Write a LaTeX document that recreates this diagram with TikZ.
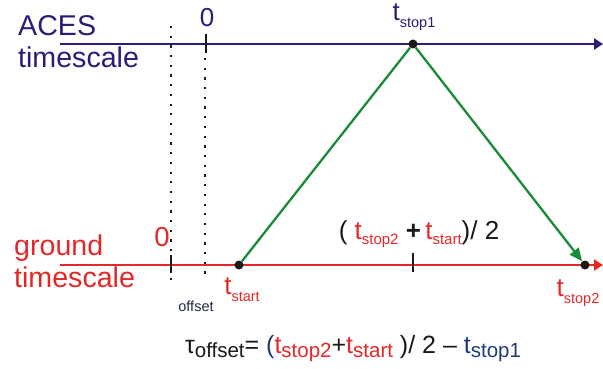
\documentclass[tikz,border=0pt]{standalone}
\usepackage{fontspec}
\setmainfont{Liberation Sans}
\usetikzlibrary{arrows.meta}
\definecolor{aces}{RGB}{40,30,120}
\definecolor{gnd}{RGB}{228,40,40}
\definecolor{sig}{RGB}{25,140,55}
\definecolor{eqblue}{RGB}{30,60,120}
\definecolor{ink}{RGB}{25,25,25}
\definecolor{note}{RGB}{35,40,70}
% t with a lowered subscript: [size]{text}{drop}
\newcommand{\tsb}[3][14.5]{t\raisebox{-#3}{\fontsize{#1}{#1}\selectfont #2}}

\begin{document}
\begin{tikzpicture}[
  x=1pt, y=-1pt,
  axis/.style={line width=2.3pt, -{Triangle[length=9pt,width=11pt]}},
  tickmark/.style={line width=2.8pt, ink},
  guide/.style={line width=2.4pt, dash pattern=on 2.2pt off 7.5pt, ink},
  event/.style={circle, fill=ink, inner sep=0pt, minimum size=9pt},
  signal/.style={line width=2.3pt, sig},
  lbl/.style={inner sep=0pt, font=\fontsize{26}{28}\selectfont},
  scale lbl/.style={inner sep=0pt, align=left, anchor=north west, font=\fontsize{28.6}{32.5}\selectfont},
]
\useasboundingbox (0,0) rectangle (603,369);

% ---- guides for the offset ----
\coordinate (offT) at (171,26);
\coordinate (offB) at (171,284);
\coordinate (zeroT) at (205,58);
\coordinate (zeroB) at (205,274);
\draw[guide] (offT) -- (offB);
\draw[guide] (zeroT) -- (zeroB);

% ---- the two timescales ----
\coordinate (acesL) at (60,44);
\coordinate (acesR) at (603,44);
\coordinate (gndL) at (60,265);
\coordinate (gndR) at (603,265);
\draw[axis, aces] (acesL) -- (acesR);
\draw[axis, gnd] (gndL) -- (gndR);

\node[scale lbl, text=aces] (ACES) at (18,15) {ACES\\timescale};
\node[scale lbl, text=gnd] (GND) at (14,234.5) {ground\\timescale};

% ---- zero marks ----
\draw[tickmark] (206,34) -- (206,53);
\draw[tickmark] (171,255) -- (171,273);
\draw[tickmark] (413,253) -- (413,272);
\node[lbl, font=\fontsize{26}{28}\selectfont, text=aces] (zeroA) at (207,18) {0};
\node[lbl, font=\fontsize{27.5}{28}\selectfont, text=gnd] (zeroG) at (162,237) {0};
\node[lbl, font=\fontsize{14.5}{16}\selectfont, text=note] (OFF) at (196,306) {offset};

% ---- events ----
\node[event] (stop1) at (413,44) {};
\node[event] (start) at (239,265) {};
\node[event] (stop2) at (585,265) {};
\node[lbl, text=aces] (Lstop1) at (414,17) {\tsb{stop1}{7pt}};
\node[lbl, text=gnd] (Lstart) at (242,290) {\tsb{start}{7pt}};
\node[lbl, text=gnd] (Lstop2) at (578,293) {\tsb{stop2}{7pt}};
\node[lbl, text=ink] (MID) at (419,234)
  {(\ \textcolor{gnd}{\tsb[15]{stop2}{5pt}} \textbf{+}\,\textcolor{gnd}{\tsb[15]{start}{5pt}})/ 2};

% ---- the round trip ----
\draw[signal] (start) -- (stop1);
\draw[signal, -{Triangle[length=13pt,width=11pt]}] (stop1) -- (stop2);

% ---- the result ----
\node[lbl, font=\fontsize{25}{27}\selectfont, text=ink] (EQ) at (353,349)
  {τ\raisebox{-4pt}{\fontsize{20.5}{21}\selectfont offset}= \textcolor{eqblue}{(}\textcolor{gnd}{\tsb[20.5]{stop2}{4pt}}+\textcolor{gnd}{\tsb[20.5]{start}{4pt}} )/ 2 – \textcolor{eqblue}{\tsb[20.5]{stop1}{4pt}}};

\end{tikzpicture}
\end{document}
